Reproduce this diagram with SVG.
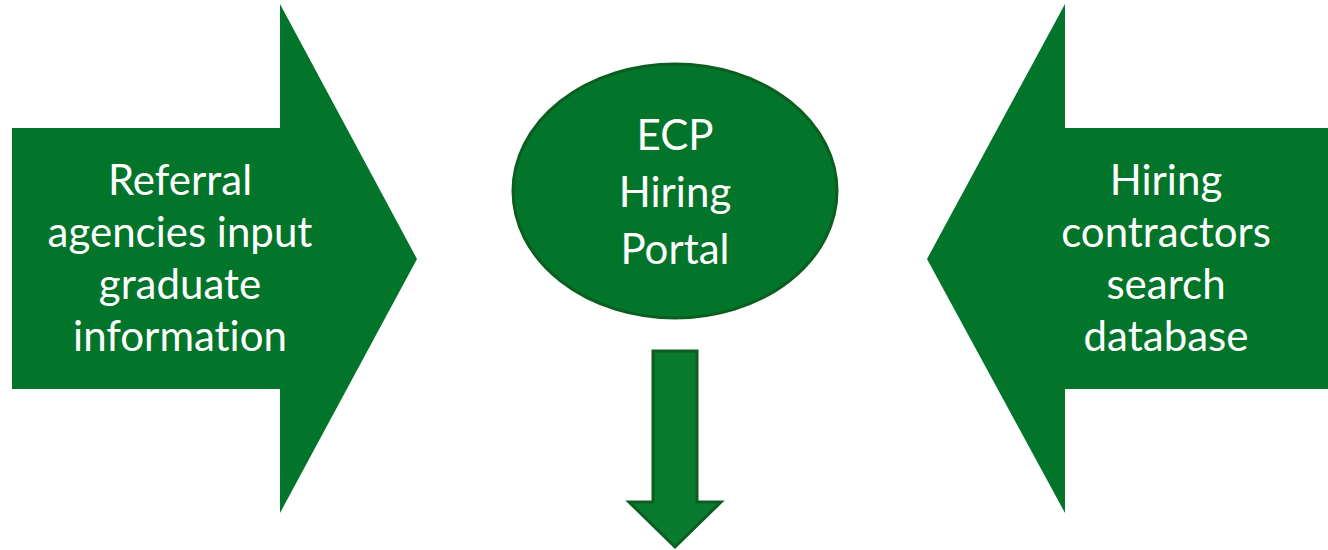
<svg xmlns="http://www.w3.org/2000/svg" width="1328" height="550" viewBox="0 0 1328 550">
<style>
.big{fill:#02752B}
.lbl{font-family:Lato,"Open Sans",sans-serif;font-size:42px;fill:#FFFFFF;text-anchor:middle;font-variant-ligatures:none}
.ell{fill:#02752B;stroke:#0B5E1F;stroke-width:3}
.down{fill:#0A7A2E;stroke:#0B5E1F;stroke-width:3;stroke-linejoin:miter}
</style>
<rect width="1328" height="550" fill="#FFFFFF"/>
<g id="referral">
<polygon class="big" points="12,128 280,128 280,4 417,259 280,513 280,389 12,389"/>
<text class="lbl"><tspan x="180" y="195">Referral</tspan><tspan x="180" y="247">agencies input</tspan><tspan x="180" y="299">graduate</tspan><tspan x="180" y="351">information</tspan></text>
</g>
<g id="portal">
<ellipse class="ell" cx="675" cy="191" rx="162" ry="127"/>
<text class="lbl"><tspan x="675" y="150">ECP</tspan><tspan x="675" y="207">Hiring</tspan><tspan x="675" y="264">Portal</tspan></text>
</g>
<g id="contractors">
<polygon class="big" points="1328,128 1065,128 1065,4 927,259 1065,513 1065,389 1328,389"/>
<text class="lbl"><tspan x="1166" y="195">Hiring</tspan><tspan x="1166" y="247">contractors</tspan><tspan x="1166" y="299">search</tspan><tspan x="1166" y="351">database</tspan></text>
</g>
<g id="connectors">
<polygon class="down" points="653,351 697,351 697,502 721,502 675,547 629,502 653,502"/>
</g>
</svg>
